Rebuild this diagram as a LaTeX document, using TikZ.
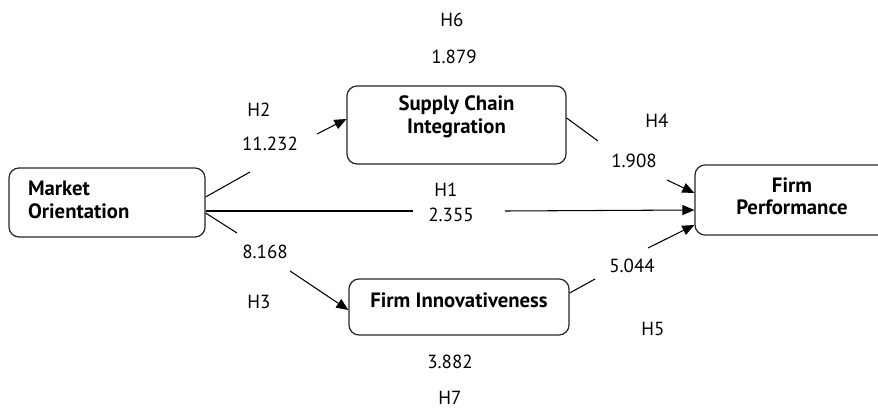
\documentclass[tikz,border=0pt]{standalone}
\usepackage{fontspec}
\setmainfont{PT Sans}
\usepackage{tikz}
\usetikzlibrary{arrows.meta}
\tikzset{Box/.style={draw=black!85,line width=0.7pt,rounded corners=0.2cm,minimum width=#1},
  BoxTxt/.style={font=\fontsize{11.8}{12.8}\selectfont\bfseries,align=center},
  Val/.style={font=\fontsize{10.8}{12}\selectfont}}

\begin{document}
\begin{tikzpicture}
    \useasboundingbox (0,0) rectangle (17.56,-8.2);
    \clip (0,0) rectangle (17.56,-8.2);
    \node[Box=3.92cm,minimum height=1.38cm] (mo) at (2.14,-4.05) {};
    \node[Box=4.38cm,minimum height=1.56cm] (sci) at (9.13,-2.5) {};
    \node[Box=4.4cm,minimum height=1.12cm] (fi) at (9.18,-6.14) {};
    \node[Box=3.88cm,minimum height=1.4cm] (fp) at (15.84,-4.0) {};
    \node[BoxTxt,align=left,text width=3.16cm] (motxt) at (2.14,-4.0) {Market\\Orientation};
    \node[BoxTxt] (scitxt) at (9.13,-2.34) {Supply Chain\\Integration};
    \node[BoxTxt] (fitxt) at (9.18,-6.0) {Firm Innovativeness};
    \node[BoxTxt] (fptxt) at (15.84,-3.93) {Firm\\Performance};
    % gaps in the paths
    \coordinate (g1) at (5.0,-3.44);
    \coordinate (g2) at (6.34,-2.68);
    \coordinate (g3) at (4.74,-4.66);
    \coordinate (g4) at (5.8,-5.42);
    \coordinate (g5) at (8.26,-4.22);
    \coordinate (g6) at (10.1,-4.22);
    \coordinate (g7) at (11.96,-2.82);
    \coordinate (g8) at (13.34,-3.6);
    \coordinate (g9) at (11.9,-5.58);
    \coordinate (g10) at (12.96,-4.96);
    \begin{scope}[line width=0.6pt]
      \draw ([yshift=0.11cm]mo.east) -- (g1);
      \draw ([yshift=-0.21cm]mo.east) -- (g3);
      \draw ([yshift=-0.17cm]mo.east) -- (g5);
      \draw ([yshift=0.14cm]sci.east) -- (g7);
      \draw ([yshift=0.28cm]fi.east) -- (g9);
    \end{scope}
    \begin{scope}[line width=0.6pt,arrows = {-Triangle[length=2.4mm,width=2mm]}]
      \draw (g2) -- ([yshift=0.12cm]sci.west);
      \draw (g4) -- ([yshift=-0.06cm]fi.west);
      \draw (g6) -- ([yshift=-0.2cm]fp.west);
      \draw (g8) -- ([yshift=0.14cm]fp.west);
      \draw (g10) -- ([yshift=-0.5cm]fp.west);
    \end{scope}
    \node[Val] (h6) at (9.04,-0.4) {H6};
    \node[Val] (v6) at (9.08,-1.14) {1.879};
    \node[Val] (h2) at (5.18,-2.2) {H2};
    \node[Val] (v2) at (5.4,-2.88) {11.232};
    \node[Val] (h4) at (13.14,-2.42) {H4};
    \node[Val] (v4) at (12.68,-3.22) {1.908};
    \node[Val] (h1) at (8.92,-3.8) {H1};
    \node[Val] (v1) at (9.02,-4.3) {2.355};
    \node[Val] (v3) at (5.3,-5.04) {8.168};
    \node[Val] (h3) at (5.18,-6.04) {H3};
    \node[Val] (v5) at (12.64,-5.32) {5.044};
    \node[Val] (h5) at (13.06,-6.58) {H5};
    \node[Val] (v7) at (9.0,-7.24) {3.882};
    \node[Val] (h7) at (9.0,-7.96) {H7};
\end{tikzpicture}
\end{document}
